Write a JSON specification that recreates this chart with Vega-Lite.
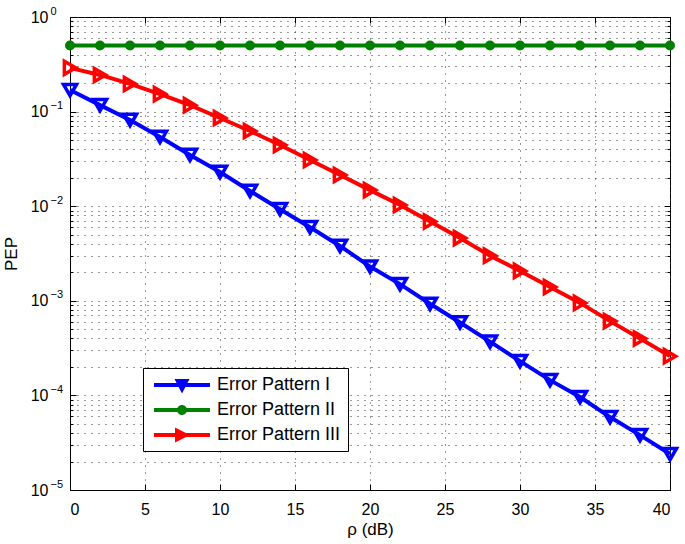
{
  "$schema": "https://vega.github.io/schema/vega-lite/v6.json",
  "autosize": "none",
  "width": 600,
  "height": 473,
  "padding": {"left": 70, "top": 17, "right": 15, "bottom": 54},
  "background": "white",
  "config": {
    "view": {"stroke": "black", "strokeWidth": 1},
    "font": "Liberation Sans",
    "axis": {
      "labelFont": "Liberation Sans",
      "titleFont": "Liberation Sans",
      "labelColor": "black",
      "titleColor": "black",
      "labelFontSize": 16,
      "titleFontSize": 16,
      "titleFontWeight": "normal",
      "domainColor": "black",
      "tickColor": "black",
      "gridColor": "#333",
      "gridDash": [1, 6],
      "gridOpacity": 1,
      "gridWidth": 1
    }
  },
  "data": {
    "values": [
      {"rho": 0, "pep": 0.169, "series": "Error Pattern I"},
      {"rho": 2, "pep": 0.117, "series": "Error Pattern I"},
      {"rho": 4, "pep": 0.0815, "series": "Error Pattern I"},
      {"rho": 6, "pep": 0.054, "series": "Error Pattern I"},
      {"rho": 8, "pep": 0.0348, "series": "Error Pattern I"},
      {"rho": 10, "pep": 0.023, "series": "Error Pattern I"},
      {"rho": 12, "pep": 0.0145, "series": "Error Pattern I"},
      {"rho": 14, "pep": 0.0093, "series": "Error Pattern I"},
      {"rho": 16, "pep": 0.006, "series": "Error Pattern I"},
      {"rho": 18, "pep": 0.0038, "series": "Error Pattern I"},
      {"rho": 20, "pep": 0.0023, "series": "Error Pattern I"},
      {"rho": 22, "pep": 0.0015, "series": "Error Pattern I"},
      {"rho": 24, "pep": 0.00093, "series": "Error Pattern I"},
      {"rho": 26, "pep": 0.00059, "series": "Error Pattern I"},
      {"rho": 28, "pep": 0.00037, "series": "Error Pattern I"},
      {"rho": 30, "pep": 0.00023, "series": "Error Pattern I"},
      {"rho": 32, "pep": 0.000145, "series": "Error Pattern I"},
      {"rho": 34, "pep": 0.000096, "series": "Error Pattern I"},
      {"rho": 36, "pep": 0.000059, "series": "Error Pattern I"},
      {"rho": 38, "pep": 0.000038, "series": "Error Pattern I"},
      {"rho": 40, "pep": 0.000024, "series": "Error Pattern I"},
      {"rho": 0, "pep": 0.5, "series": "Error Pattern II"},
      {"rho": 2, "pep": 0.5, "series": "Error Pattern II"},
      {"rho": 4, "pep": 0.5, "series": "Error Pattern II"},
      {"rho": 6, "pep": 0.5, "series": "Error Pattern II"},
      {"rho": 8, "pep": 0.5, "series": "Error Pattern II"},
      {"rho": 10, "pep": 0.5, "series": "Error Pattern II"},
      {"rho": 12, "pep": 0.5, "series": "Error Pattern II"},
      {"rho": 14, "pep": 0.5, "series": "Error Pattern II"},
      {"rho": 16, "pep": 0.5, "series": "Error Pattern II"},
      {"rho": 18, "pep": 0.5, "series": "Error Pattern II"},
      {"rho": 20, "pep": 0.5, "series": "Error Pattern II"},
      {"rho": 22, "pep": 0.5, "series": "Error Pattern II"},
      {"rho": 24, "pep": 0.5, "series": "Error Pattern II"},
      {"rho": 26, "pep": 0.5, "series": "Error Pattern II"},
      {"rho": 28, "pep": 0.5, "series": "Error Pattern II"},
      {"rho": 30, "pep": 0.5, "series": "Error Pattern II"},
      {"rho": 32, "pep": 0.5, "series": "Error Pattern II"},
      {"rho": 34, "pep": 0.5, "series": "Error Pattern II"},
      {"rho": 36, "pep": 0.5, "series": "Error Pattern II"},
      {"rho": 38, "pep": 0.5, "series": "Error Pattern II"},
      {"rho": 40, "pep": 0.5, "series": "Error Pattern II"},
      {"rho": 0, "pep": 0.29, "series": "Error Pattern III"},
      {"rho": 2, "pep": 0.244, "series": "Error Pattern III"},
      {"rho": 4, "pep": 0.196, "series": "Error Pattern III"},
      {"rho": 6, "pep": 0.153, "series": "Error Pattern III"},
      {"rho": 8, "pep": 0.117, "series": "Error Pattern III"},
      {"rho": 10, "pep": 0.0856, "series": "Error Pattern III"},
      {"rho": 12, "pep": 0.0623, "series": "Error Pattern III"},
      {"rho": 14, "pep": 0.0444, "series": "Error Pattern III"},
      {"rho": 16, "pep": 0.0308, "series": "Error Pattern III"},
      {"rho": 18, "pep": 0.0214, "series": "Error Pattern III"},
      {"rho": 20, "pep": 0.0148, "series": "Error Pattern III"},
      {"rho": 22, "pep": 0.0103, "series": "Error Pattern III"},
      {"rho": 24, "pep": 0.0069, "series": "Error Pattern III"},
      {"rho": 26, "pep": 0.0046, "series": "Error Pattern III"},
      {"rho": 28, "pep": 0.003, "series": "Error Pattern III"},
      {"rho": 30, "pep": 0.00207, "series": "Error Pattern III"},
      {"rho": 32, "pep": 0.0014, "series": "Error Pattern III"},
      {"rho": 34, "pep": 0.00095, "series": "Error Pattern III"},
      {"rho": 36, "pep": 0.00061, "series": "Error Pattern III"},
      {"rho": 38, "pep": 0.0004, "series": "Error Pattern III"},
      {"rho": 40, "pep": 0.00026, "series": "Error Pattern III"}
    ]
  },
  "resolve": {"axis": {"x": "independent", "y": "independent"}},
  "layer": [
    {
      "mark": {"type": "line", "strokeWidth": 4},
      "encoding": {
        "x": {
          "field": "rho", "type": "quantitative",
          "scale": {"domain": [0, 40], "nice": false},
          "axis": {"orient": "bottom", "title": "ρ (dB)", "values": [0, 5, 10, 15, 20, 25, 30, 35, 40], "grid": true, "tickSize": -6, "labelPadding": 17, "titlePadding": 4, "titleFontSize": 17}
        },
        "y": {
          "field": "pep", "type": "quantitative",
          "scale": {"type": "log", "domain": [0.00001, 1], "nice": false},
          "axis": {"orient": "left", "title": "PEP", "values": [0.00001, 0.0001, 0.001, 0.01, 0.1, 1], "grid": true, "tickSize": -6, "labelPadding": 28, "titlePadding": 10, "titleFontSize": 17,
            "labelExpr": "'10'"}
        },
        "color": {
          "field": "series", "type": "nominal",
          "scale": {"domain": ["Error Pattern I", "Error Pattern II", "Error Pattern III"], "range": ["#0000ff", "#008000", "#ff0000"]},
          "legend": {
            "title": null,
            "orient": "none",
            "legendX": 73,
            "legendY": 351,
            "strokeColor": "black",
            "fillColor": "white",
            "padding": 7,
            "labelFont": "Liberation Sans",
            "labelFontSize": 18,
            "labelColor": "black",
            "labelOffset": 47,
            "rowPadding": 6,
            "symbolSize": 400,
            "symbolStrokeWidth": 0,
            "encode": {
              "symbols": {
                "update": {
                  "shape": {"signal": "datum.value === 'Error Pattern I' ? 'M-0.6,-0.2L5,-0.2L5,0.2L-0.6,0.2Z M1.45,-0.6L2.95,-0.6L2.2,0.85Z' : datum.value === 'Error Pattern II' ? 'M-0.6,-0.2L5,-0.2L5,0.2L-0.6,0.2Z M1.7,0A0.5,0.5 0 1,1 2.7,0A0.5,0.5 0 1,1 1.7,0Z' : 'M-0.6,-0.2L5,-0.2L5,0.2L-0.6,0.2Z M1.5,-0.75L3.0,0L1.5,0.75Z'"},
                  "fill": {"signal": "scale('color', datum.value)"},
                  "stroke": {"value": "transparent"},
                  "strokeWidth": {"value": 0},
                  "opacity": {"value": 1}
                }
              }
            }
          }
        }
      }
    },
    {
      "mark": {"type": "point", "filled": false, "strokeWidth": 3.5, "opacity": 1},
      "transform": [{"filter": "datum.series !== 'Error Pattern II'"}],
      "encoding": {
        "x": {"field": "rho", "type": "quantitative", "axis": {"orient": "top", "values": [0, 5, 10, 15, 20, 25, 30, 35, 40], "labels": false, "title": null, "grid": false, "domain": false, "tickSize": -6}},
        "y": {"field": "pep", "type": "quantitative",
          "axis": {"orient": "left", "values": [0.00002,0.00003,0.00004,0.00005,0.00006,0.00007,0.00008,0.00009,0.0002,0.0003,0.0004,0.0005,0.0006,0.0007,0.0008,0.0009,0.002,0.003,0.004,0.005,0.006,0.007,0.008,0.009,0.02,0.03,0.04,0.05,0.06,0.07,0.08,0.09,0.2,0.3,0.4,0.5,0.6,0.7,0.8,0.9], "labels": false, "title": null, "grid": true, "domain": false, "tickSize": -3}},
        "color": {"field": "series", "type": "nominal", "legend": null},
        "shape": {"field": "series", "type": "nominal", "legend": null,
          "scale": {"domain": ["Error Pattern I", "Error Pattern III"], "range": ["triangle-down", "triangle-right"]}},
        "size": {"value": 170}
      }
    },
    {
      "mark": {"type": "point", "filled": true, "shape": "circle", "size": 100, "opacity": 1},
      "transform": [{"filter": "datum.series === 'Error Pattern II'"}],
      "encoding": {
        "x": {"field": "rho", "type": "quantitative", "axis": null},
        "y": {"field": "pep", "type": "quantitative",
          "axis": {"orient": "right", "values": [0.00001, 0.0001, 0.001, 0.01, 0.1, 1], "labels": false, "title": null, "grid": false, "domain": false, "tickSize": -6}},
        "color": {"field": "series", "type": "nominal", "legend": null}
      }
    },
    {
      "mark": {"type": "line", "strokeWidth": 0, "opacity": 0},
      "encoding": {
        "x": {"field": "rho", "type": "quantitative", "axis": null},
        "y": {"field": "pep", "type": "quantitative",
          "axis": {"orient": "right", "values": [0.00002,0.00003,0.00004,0.00005,0.00006,0.00007,0.00008,0.00009,0.0002,0.0003,0.0004,0.0005,0.0006,0.0007,0.0008,0.0009,0.002,0.003,0.004,0.005,0.006,0.007,0.008,0.009,0.02,0.03,0.04,0.05,0.06,0.07,0.08,0.09,0.2,0.3,0.4,0.5,0.6,0.7,0.8,0.9], "labels": false, "title": null, "grid": false, "domain": false, "tickSize": -3}},
        "detail": {"field": "series", "type": "nominal"}
      }
    },
    {
      "mark": {"type": "line", "strokeWidth": 0, "opacity": 0},
      "encoding": {
        "x": {"field": "rho", "type": "quantitative", "axis": null},
        "y": {"field": "pep", "type": "quantitative",
          "axis": {"orient": "left", "values": [0.00001, 0.0001, 0.001, 0.01, 0.1, 1], "title": null, "grid": false, "domain": false, "ticks": false, "labelPadding": 20, "labelAlign": "left", "labelFontSize": 11, "labelOffset": -6,
            "labelExpr": "datum.value >= 0.5 ? '0' : datum.value >= 0.05 ? '−1' : datum.value >= 0.005 ? '−2' : datum.value >= 0.0005 ? '−3' : datum.value >= 0.00005 ? '−4' : '−5'"}},
        "detail": {"field": "series", "type": "nominal"}
      }
    }
  ]
}
